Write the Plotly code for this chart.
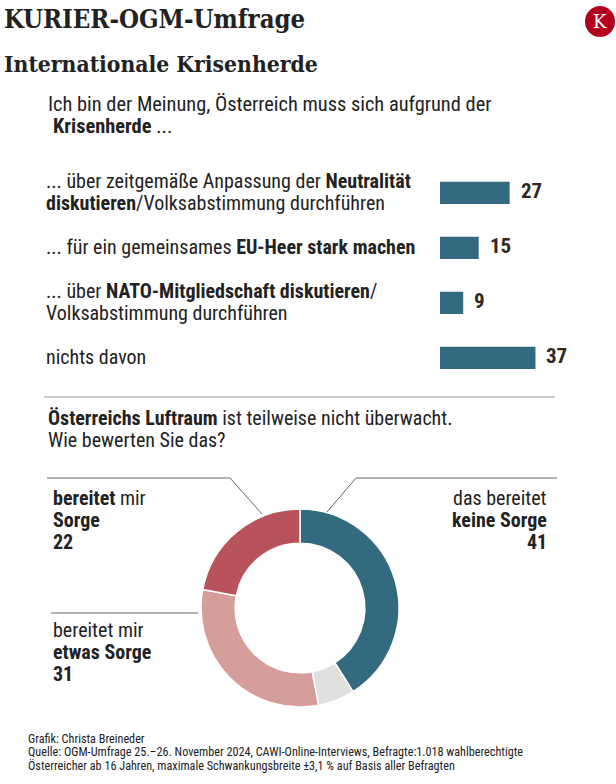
import plotly.graph_objects as go

W, H = 616, 784

def px(x):
    return x / W

def py(y):
    return 1 - y / H

# ---- data ----
bar_labels = [
    "... über zeitgemäße Anpassung der <b>Neutralität</b><br><b>diskutieren</b>/Volksabstimmung durchführen",
    "... für ein gemeinsames <b>EU-Heer stark machen</b>",
    "... über <b>NATO-Mitgliedschaft diskutieren</b>/<br>Volksabstimmung durchführen",
    "nichts davon",
]
bar_values = [27, 15, 9, 37]

donut_labels = ["das bereitet keine Sorge", "weiß nicht / keine Angabe", "bereitet mir etwas Sorge", "bereitet mir Sorge"]
donut_values = [41, 6, 31, 22]
donut_colors = ["#336a80", "#e0e0e0", "#d59e9a", "#b8535b"]

BAR_COLOR = "#336a80"
TXT = "#222222"
VAL = "#33261c"
FONT = "Roboto Condensed, Liberation Sans Narrow, DejaVu Sans Condensed, Roboto, sans-serif"
SERIF = "DejaVu Serif Condensed, DejaVu Serif, Liberation Serif, serif"
FS = 20

fig = go.Figure()

fig.add_trace(go.Bar(
    x=bar_values, y=bar_labels, orientation="h",
    marker=dict(color=BAR_COLOR, line=dict(width=0)),
    width=0.405, hoverinfo="skip", showlegend=False,
    xaxis="x", yaxis="y",
))

fig.add_trace(go.Pie(
    values=donut_values, labels=donut_labels, hole=0.655,
    sort=False, direction="clockwise", rotation=0,
    marker=dict(colors=donut_colors, line=dict(color="white", width=1.5)),
    textinfo="none", hoverinfo="skip", showlegend=False,
    domain=dict(x=[px(201), px(399)], y=[py(707), py(509)]),
))

annotations = []

def text_lines(lines, x, ys, anchor="left", size=FS, family=FONT, color=TXT):
    for t, yy in zip(lines, ys):
        annotations.append(dict(
            x=px(x), y=py(yy), xref="paper", yref="paper", text=t,
            showarrow=False, xanchor=anchor, yanchor="middle", align=anchor,
            font=dict(family=family, size=size, color=color)))

# category labels (left) and values (right of bars)
for lab, v in zip(bar_labels, bar_values):
    lines = lab.split("<br>")
    n = len(lines)
    for i, t in enumerate(lines):
        annotations.append(dict(
            x=px(44), xref="paper", y=lab, yref="y", text=t, showarrow=False,
            xanchor="left", yanchor="middle", align="left",
            yshift=((n - 1) / 2 - i) * 22 + 1,
            font=dict(family=FONT, size=FS, color=TXT),
        ))
    annotations.append(dict(
        x=v, xref="x", y=lab, yref="y", text=f"<b>{v}</b>", showarrow=False,
        xanchor="left", yanchor="middle", xshift=9, yshift=2,
        font=dict(family=FONT, size=21, color=VAL),
    ))

# header
annotations += [
    dict(x=px(2), y=py(19), xref="paper", yref="paper", text="<b>KURIER-OGM-Umfrage</b>",
         showarrow=False, xanchor="left", yanchor="middle",
         font=dict(family=SERIF, size=25.5, color=TXT)),
    dict(x=px(2), y=py(64), xref="paper", yref="paper", text="<b>Internationale Krisenherde</b>",
         showarrow=False, xanchor="left", yanchor="middle",
         font=dict(family=SERIF, size=22.7, color=TXT)),
    dict(x=px(600), y=py(22), xref="paper", yref="paper", text="K",
         showarrow=False, xanchor="center", yanchor="middle",
         font=dict(family="DejaVu Serif, serif", size=18, color="white")),
]
text_lines(["Ich bin der Meinung, Österreich muss sich aufgrund der"], 46, [104], size=20.4)
text_lines(["<b>Krisenherde</b> ..."], 51, [126], size=20.4)
text_lines(["<b>Österreichs Luftraum</b> ist teilweise nicht überwacht.",
            "Wie bewerten Sie das?"], 46, [418, 440])

# donut labels
text_lines(["das bereitet", "<b>keine Sorge</b>", f"<b>{donut_values[0]}</b>"],
           549, [498, 520, 542], anchor="right")
text_lines(["<b>bereitet</b> mir", "<b>Sorge</b>", f"<b>{donut_values[3]}</b>"],
           51, [498, 520, 542])
text_lines(["bereitet mir", "<b>etwas Sorge</b>", f"<b>{donut_values[2]}</b>"],
           51, [630, 652, 674])

# footer
foot = [
    "Grafik: Christa Breineder",
    "Quelle: OGM-Umfrage 25.–26. November 2024, CAWI-Online-Interviews, Befragte:1.018 wahlberechtigte",
    "Österreicher ab 16 Jahren, maximale Schwankungsbreite ±3,1 % auf Basis aller Befragten",
]
text_lines(foot, 26, [739, 752, 765], size=12.2)

shapes = [
    dict(type="circle", xref="paper", yref="paper",
         x0=px(585), x1=px(615), y0=py(37), y1=py(6),
         fillcolor="#b3001e", line=dict(width=0)),
    dict(type="line", xref="paper", yref="paper",
         x0=px(44), x1=px(555), y0=py(397), y1=py(397),
         line=dict(color="#999999", width=1.2)),
    # leader lines
    dict(type="path", xref="paper", yref="paper",
         path=f"M {px(47)},{py(478)} L {px(230)},{py(478)} L {px(262)},{py(514)}",
         line=dict(color="#555555", width=0.9)),
    dict(type="path", xref="paper", yref="paper",
         path=f"M {px(557)},{py(478)} L {px(356)},{py(478)} L {px(327)},{py(512)}",
         line=dict(color="#555555", width=0.9)),
    dict(type="line", xref="paper", yref="paper",
         x0=px(51), x1=px(198), y0=py(613), y1=py(613),
         line=dict(color="#555555", width=0.9)),
]

fig.update_layout(
    width=W, height=H,
    margin=dict(l=0, r=0, t=0, b=0),
    paper_bgcolor="white", plot_bgcolor="white",
    xaxis=dict(domain=[px(440), 1], range=[0, (W - 440) / 2.58],
               visible=False, fixedrange=True),
    yaxis=dict(domain=[py(385.3), py(165.3)], range=[3.5, -0.5],
               type="category", categoryorder="array", categoryarray=bar_labels,
               visible=False, fixedrange=True),
    annotations=annotations,
    shapes=shapes,
    hovermode=False,
)

fig.write_html("out.html", config={"displayModeBar": False, "staticPlot": True},
               post_script="document.body.style.margin='0px';")
